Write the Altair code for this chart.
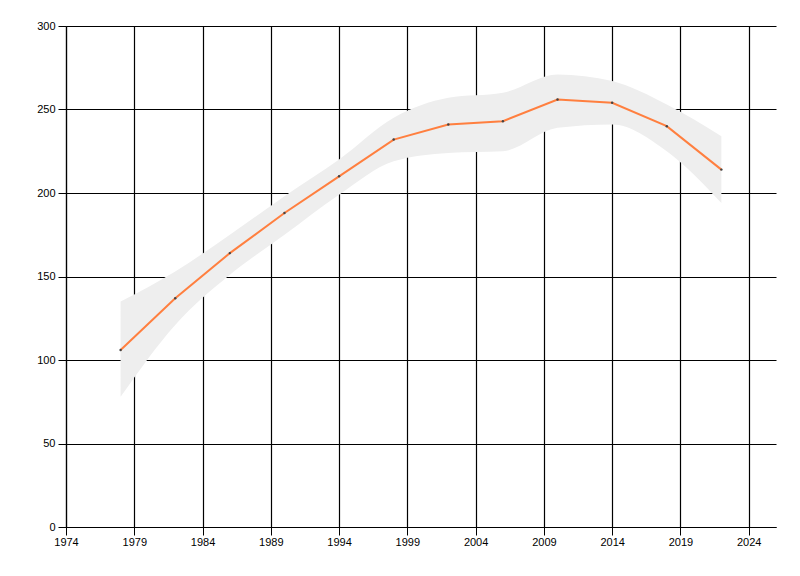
import altair as alt
import pandas as pd

# ---------------------------------------------------------------- data
YEARS = [1978, 1982, 1986, 1990, 1994, 1998, 2002, 2006, 2010, 2014, 2018, 2022]
VALUES = [106, 137, 164, 188, 210, 232, 241, 243, 256, 254, 240, 214]
UPPER = [135, 153, 175, 198, 220, 245, 257, 260, 271, 267, 253, 234]
LOWER = [78, 121, 151, 175, 199, 219, 224, 225, 239, 241, 225, 194]

X_TICKS = list(range(1974, 2025, 5))
Y_TICKS = [0, 50, 100, 150, 200, 250, 300]

LINE = "#ff7f3f"
BAND = "#eeeeee"
FONT = "Liberation Sans"

df = pd.DataFrame({"year": YEARS, "value": VALUES, "upper": UPPER, "lower": LOWER})

x = alt.X("year:Q", scale=alt.Scale(domain=[1974, 2026], nice=False, zero=False),
          axis=alt.Axis(values=X_TICKS, format="d", title=None, grid=True,
                        gridColor="black", gridOpacity=1, gridWidth=1.2,
                        domainColor="black", domainWidth=1.2,
                        tickColor="black", tickSize=8, labelPadding=1,
                        labelColor="black", labelFont=FONT, labelFontSize=11,
                        labelFlush=False))
y = alt.Y("value:Q", scale=alt.Scale(domain=[0, 300], nice=False),
          axis=alt.Axis(values=Y_TICKS, title=None, grid=True, gridColor="black",
                        gridOpacity=1, gridWidth=1.2, domainColor="black",
                        domainWidth=1.2, tickColor="black",
                        tickSize=8, labelPadding=3, labelColor="black",
                        labelFont=FONT, labelFontSize=11))

base = alt.Chart(df)
band = base.mark_area(color=BAND, opacity=1, interpolate="monotone").encode(
    x=x, y=alt.Y("lower:Q"), y2="upper:Q")
line = base.mark_line(color=LINE, strokeWidth=2).encode(x=x, y=y)
pts = base.mark_point(filled=True, color="#444444", size=6, opacity=1).encode(x=x, y=y)

chart = (band + line + pts).properties(
    width=710, height=501,
    padding={"left": 58, "top": 18, "right": 10, "bottom": 30},
    autosize=alt.AutoSizeParams(type="none"),
    background="white",
).configure_view(strokeOpacity=0)

chart.save("out.html", embed_options={"renderer": "svg", "actions": False})
